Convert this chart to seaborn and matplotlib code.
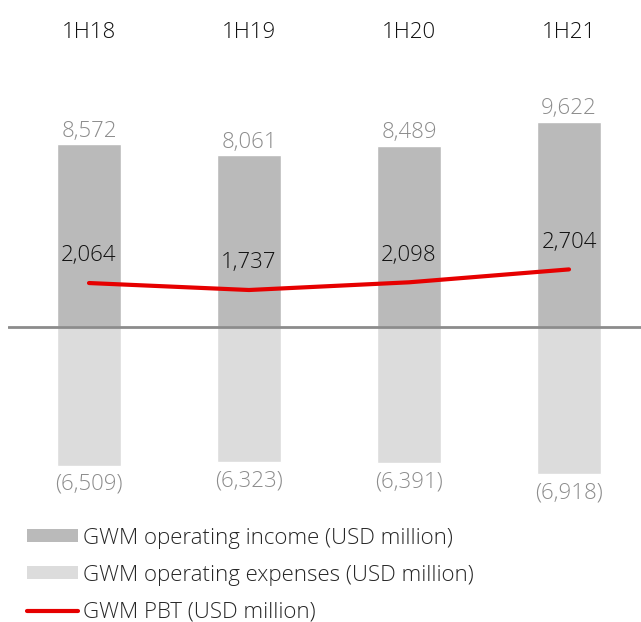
import pandas as pd
import matplotlib.pyplot as plt
import seaborn as sns
from matplotlib.patches import Patch
from matplotlib.lines import Line2D

# Data (USD million)
periods = ['1H18', '1H19', '1H20', '1H21']
operating_income = [8572, 8061, 8489, 9622]
operating_expenses = [-6509, -6323, -6391, -6918]
pbt = [2064, 1737, 2098, 2704]

INCOME_COLOR = '#bababa'
EXPENSE_COLOR = '#dcdcdc'
PBT_COLOR = '#e60000'
LABEL_GREY = '#8c8c8c'

sns.set_style('white')
plt.rcParams['font.family'] = ['Open Sans', 'DejaVu Sans']
plt.rcParams['font.weight'] = 'light'

df = pd.DataFrame({'period': periods, 'income': operating_income,
                   'expenses': operating_expenses, 'pbt': pbt})

fig = plt.figure(figsize=(6.41, 6.22), dpi=100)
# axes spans x 8..641 px, y 60..500 px (from top)
ax = fig.add_axes([8 / 641, 122 / 622, 633 / 641, 440 / 622])

sns.barplot(data=df, x='period', y='income', color=INCOME_COLOR, width=0.4,
            saturation=1, ax=ax, order=periods)
sns.barplot(data=df, x='period', y='expenses', color=EXPENSE_COLOR, width=0.4,
            saturation=1, ax=ax, order=periods)
ax.plot(range(len(periods)), df['pbt'], color=PBT_COLOR, linewidth=3, zorder=4)

ax.axhline(0, color='#8c8c8c', linewidth=2, zorder=3)

# value labels
for i, v in enumerate(operating_income):
    ax.annotate(f'{v:,}', (i, v), xytext=(0, 2), textcoords='offset points',
                ha='center', va='bottom', fontsize=16, color=LABEL_GREY)
for i, v in enumerate(operating_expenses):
    ax.annotate(f'({abs(v):,})', (i, v), xytext=(0, -6), textcoords='offset points',
                ha='center', va='top', fontsize=16, color=LABEL_GREY)
for i, v in enumerate(pbt):
    ax.annotate(f'{v:,}', (i, v), xytext=(0, 12), textcoords='offset points',
                ha='center', va='bottom', fontsize=16, color='#111111')

scale = 0.0213  # px per USD million
ax.set_xlim(-81 / 160, 552 / 160)
ax.set_ylim(-(500 - 327) / scale, (327 - 60) / scale)

ax.xaxis.tick_top()
ax.tick_params(axis='x', length=0, pad=12, labelsize=16, labelcolor='#111111')
ax.set_yticks([])
ax.set_xlabel('')
ax.set_ylabel('')
sns.despine(ax=ax, left=True, bottom=True, top=True, right=True)

handles = [
    Patch(facecolor=INCOME_COLOR, edgecolor='none', label='GWM operating income (USD million)'),
    Patch(facecolor=EXPENSE_COLOR, edgecolor='none', label='GWM operating expenses (USD million)'),
    Line2D([0], [0], color=PBT_COLOR, linewidth=3, label='GWM PBT (USD million)'),
]
fig.legend(handles=handles, loc='upper left', bbox_to_anchor=(20 / 641, 1 - 521 / 622),
           frameon=False, fontsize=16, handlelength=2.3, handleheight=0.5,
           handletextpad=0.22, labelspacing=0.72, borderaxespad=0, borderpad=0.3)

fig.savefig('out.png', dpi=100)
